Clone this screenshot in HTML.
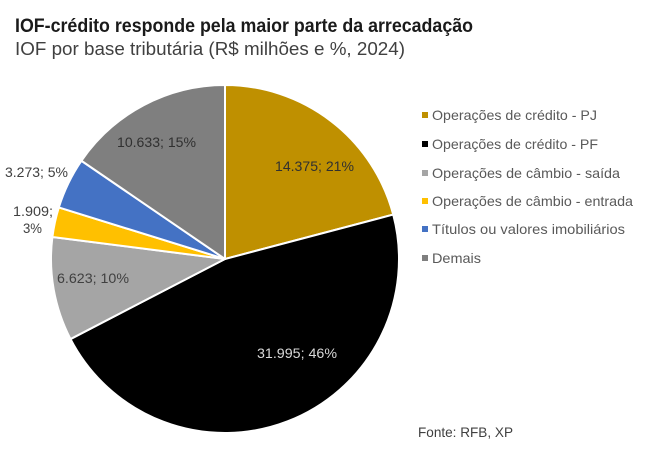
<!DOCTYPE html>
<html>
<head>
<meta charset="utf-8">
<style>
html,body{margin:0;padding:0;background:#fff;}
svg{display:block;}
text{font-family:"Liberation Sans",sans-serif;}
</style>
</head>
<body>
<svg width="645" height="466" viewBox="0 0 645 466" xmlns="http://www.w3.org/2000/svg">
<rect width="645" height="466" fill="#fff"/>
<text x="15" y="32" font-size="19" font-weight="bold" fill="#1a1a1a" textLength="458" lengthAdjust="spacingAndGlyphs">IOF-crédito responde pela maior parte da arrecadação</text>
<text x="15" y="55" font-size="18" fill="#404040" textLength="390" lengthAdjust="spacingAndGlyphs">IOF por base tributária (R$ milhões e %, 2024)</text>

<g stroke="#fff" stroke-width="2" stroke-linejoin="round">
<path d="M225,259 L225,85 A174,174 0 0 1 393.23,214.58 Z" fill="#BF9000"/>
<path d="M225,259 L393.23,214.58 A174,174 0 0 1 70.51,339.06 Z" fill="#000000"/>
<path d="M225,259 L70.51,339.06 A174,174 0 0 1 52.39,237.02 Z" fill="#A5A5A5"/>
<path d="M225,259 L52.39,237.02 A174,174 0 0 1 58.82,207.42 Z" fill="#FFC000"/>
<path d="M225,259 L58.82,207.42 A174,174 0 0 1 81.39,160.76 Z" fill="#4472C4"/>
<path d="M225,259 L81.39,160.76 A174,174 0 0 1 225,85 Z" fill="#7F7F7F"/>
</g>

<g font-size="14">
<text x="275" y="171" fill="#303030" textLength="79" lengthAdjust="spacingAndGlyphs">14.375; 21%</text>
<text x="257" y="358" fill="#d9d9d9" textLength="80" lengthAdjust="spacingAndGlyphs">31.995; 46%</text>
<text x="57" y="283" fill="#404040" textLength="72" lengthAdjust="spacingAndGlyphs">6.623; 10%</text>
<text x="13" y="216" fill="#404040" textLength="40" lengthAdjust="spacingAndGlyphs">1.909;</text>
<text x="23" y="233" fill="#404040" textLength="19" lengthAdjust="spacingAndGlyphs">3%</text>
<text x="5" y="177" fill="#404040" textLength="63" lengthAdjust="spacingAndGlyphs">3.273; 5%</text>
<text x="117" y="147" fill="#303030" textLength="79" lengthAdjust="spacingAndGlyphs">10.633; 15%</text>
</g>

<g font-size="14" fill="#595959">
<rect x="422" y="112" width="6" height="6" fill="#BF9000"/>
<text x="432" y="120" textLength="165" lengthAdjust="spacingAndGlyphs">Operações de crédito - PJ</text>
<rect x="422" y="141" width="6" height="6" fill="#000000"/>
<text x="432" y="149" textLength="166" lengthAdjust="spacingAndGlyphs">Operações de crédito - PF</text>
<rect x="422" y="170" width="6" height="6" fill="#A5A5A5"/>
<text x="432" y="178" textLength="188" lengthAdjust="spacingAndGlyphs">Operações de câmbio - saída</text>
<rect x="422" y="198" width="6" height="6" fill="#FFC000"/>
<text x="432" y="206" textLength="201" lengthAdjust="spacingAndGlyphs">Operações de câmbio - entrada</text>
<rect x="422" y="226" width="6" height="6" fill="#4472C4"/>
<text x="432" y="234" textLength="193" lengthAdjust="spacingAndGlyphs">Títulos ou valores imobiliários</text>
<rect x="422" y="255" width="6" height="6" fill="#7F7F7F"/>
<text x="432" y="263" textLength="49" lengthAdjust="spacingAndGlyphs">Demais</text>
</g>

<text x="418" y="437" font-size="14" fill="#404040" textLength="95" lengthAdjust="spacingAndGlyphs">Fonte: RFB, XP</text>
</svg>
</body>
</html>
